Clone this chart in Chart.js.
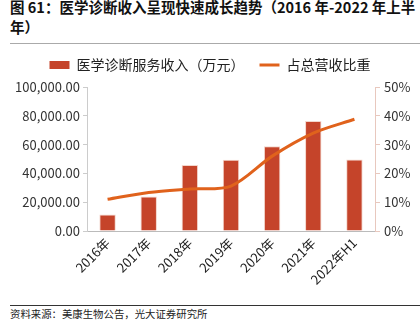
<!DOCTYPE html>
<html>
<head>
<meta charset="utf-8">
<script src="https://cdn.jsdelivr.net/npm/chart.js@4"></script>
<style>
  body { margin: 0; background: #fff; font-family: 'Noto Sans CJK SC', sans-serif; }
  #wrap { position: relative; width: 420px; height: 333px; overflow: hidden; }
  #title { position: absolute; left: 10px; top: -3px; width: 410px; font-size: 14.5px; font-weight: bold; line-height: 20px; color: #111; }
  #rule1 { position: absolute; left: 10px; right: 0; top: 43px; border-top: 1px solid #aaa; }
  #box { position: absolute; left: 0; top: 43px; width: 420px; height: 257px; }
  #rule2 { position: absolute; left: 10px; right: 0; top: 305px; border-top: 1px solid #333; }
  #src { position: absolute; left: 10px; top: 306px; font-size: 10.4px; color: #222; }
</style>
</head>
<body>
<div id="wrap">
  <div id="title">图 61：医学诊断收入呈现快速成长趋势（2016 年-2022 年上半<br>年）</div>
  <div id="rule1"></div>
  <div id="box"><canvas id="c"></canvas></div>
  <div id="rule2"></div>
  <div id="src">资料来源：美康生物公告，光大证券研究所</div>
</div>
<script>
const years = ['2016年', '2017年', '2018年', '2019年', '2020年', '2021年', '2022年H1'];
const revenue = [11400, 23900, 45900, 49400, 58900, 76400, 49600];
const share = [11.0, 13.4, 14.6, 15.6, 26.0, 34.0, 38.8];
const leftTicks = [0, 20000, 40000, 60000, 80000, 100000];

const font = { family: "'Noto Sans CJK SC', sans-serif", size: 13 };

// extra room under the legend
const legendGap = {
    id: 'legendGap',
    beforeInit(chart) {
        const fit = chart.legend.fit;
        chart.legend.fit = function () {
            fit.bind(chart.legend)();
            this.height += 5;
        };
    }
};

new Chart(document.getElementById('c'), {
    data: {
        labels: years,
        datasets: [
            {
                type: 'line',
                label: '占总营收比重',
                data: share,
                yAxisID: 'y1',
                borderColor: '#E0621C',
                backgroundColor: '#E0621C',
                borderWidth: 3,
                pointRadius: 0,
                tension: 0.3,
                order: 0
            },
            {
                type: 'bar',
                label: '医学诊断服务收入（万元）',
                data: revenue,
                yAxisID: 'y',
                backgroundColor: '#C5442A',
                borderColor: '#f3d6cc',
                borderWidth: 1,
                categoryPercentage: 1,
                barPercentage: 0.4,
                order: 1
            }
        ]
    },
    plugins: [legendGap],
    options: {
        responsive: true,
        maintainAspectRatio: false,
        animation: false,
        layout: { padding: 0 },
        plugins: {
            legend: {
                position: 'top',
                reverse: true,
                labels: {
                    color: '#222',
                    font: { family: font.family, size: 14 },
                    usePointStyle: true,
                    boxHeight: 8,
                    pointStyleWidth: 20,
                    padding: 15,
                    generateLabels: chart => chart.data.datasets.map((ds, i) => ({
                        text: ds.label,
                        datasetIndex: i,
                        fillStyle: ds.type === 'bar' ? ds.backgroundColor : ds.borderColor,
                        strokeStyle: ds.type === 'bar' ? ds.backgroundColor : ds.borderColor,
                        lineWidth: ds.type === 'bar' ? 0 : 3,
                        pointStyle: ds.type === 'bar' ? 'rect' : 'line',
                        fontColor: '#222'
                    }))
                }
            },
            tooltip: { enabled: false }
        },
        scales: {
            x: {
                grid: { display: false, drawTicks: false },
                border: { color: '#bbb' },
                ticks: { color: '#222', font: { family: font.family, size: 13 }, maxRotation: 45, minRotation: 45, padding: 4 },
                afterFit: s => { s.height = 69; }
            },
            y: {
                position: 'left',
                min: 0, max: 100000,
                afterBuildTicks: s => { s.ticks = leftTicks.map(v => ({ value: v })); },
                grid: { drawOnChartArea: false, tickLength: 4, color: '#ccc' },
                border: { color: '#ccc' },
                ticks: {
                    color: '#333', font: font, padding: 3,
                    callback: v => v.toLocaleString('en-US', { minimumFractionDigits: 2, maximumFractionDigits: 2 })
                },
                afterFit: s => { s.width = 87; }
            },
            y1: {
                position: 'right',
                min: 0, max: 50,
                grid: { drawOnChartArea: false, tickLength: 5, color: '#e8c8be' },
                border: { color: '#e8c8be' },
                ticks: { color: '#333', font: font, stepSize: 10, padding: 4, callback: v => v + '%' },
                afterFit: s => { s.width = 45; }
            }
        }
    }
});
</script>
</body>
</html>
